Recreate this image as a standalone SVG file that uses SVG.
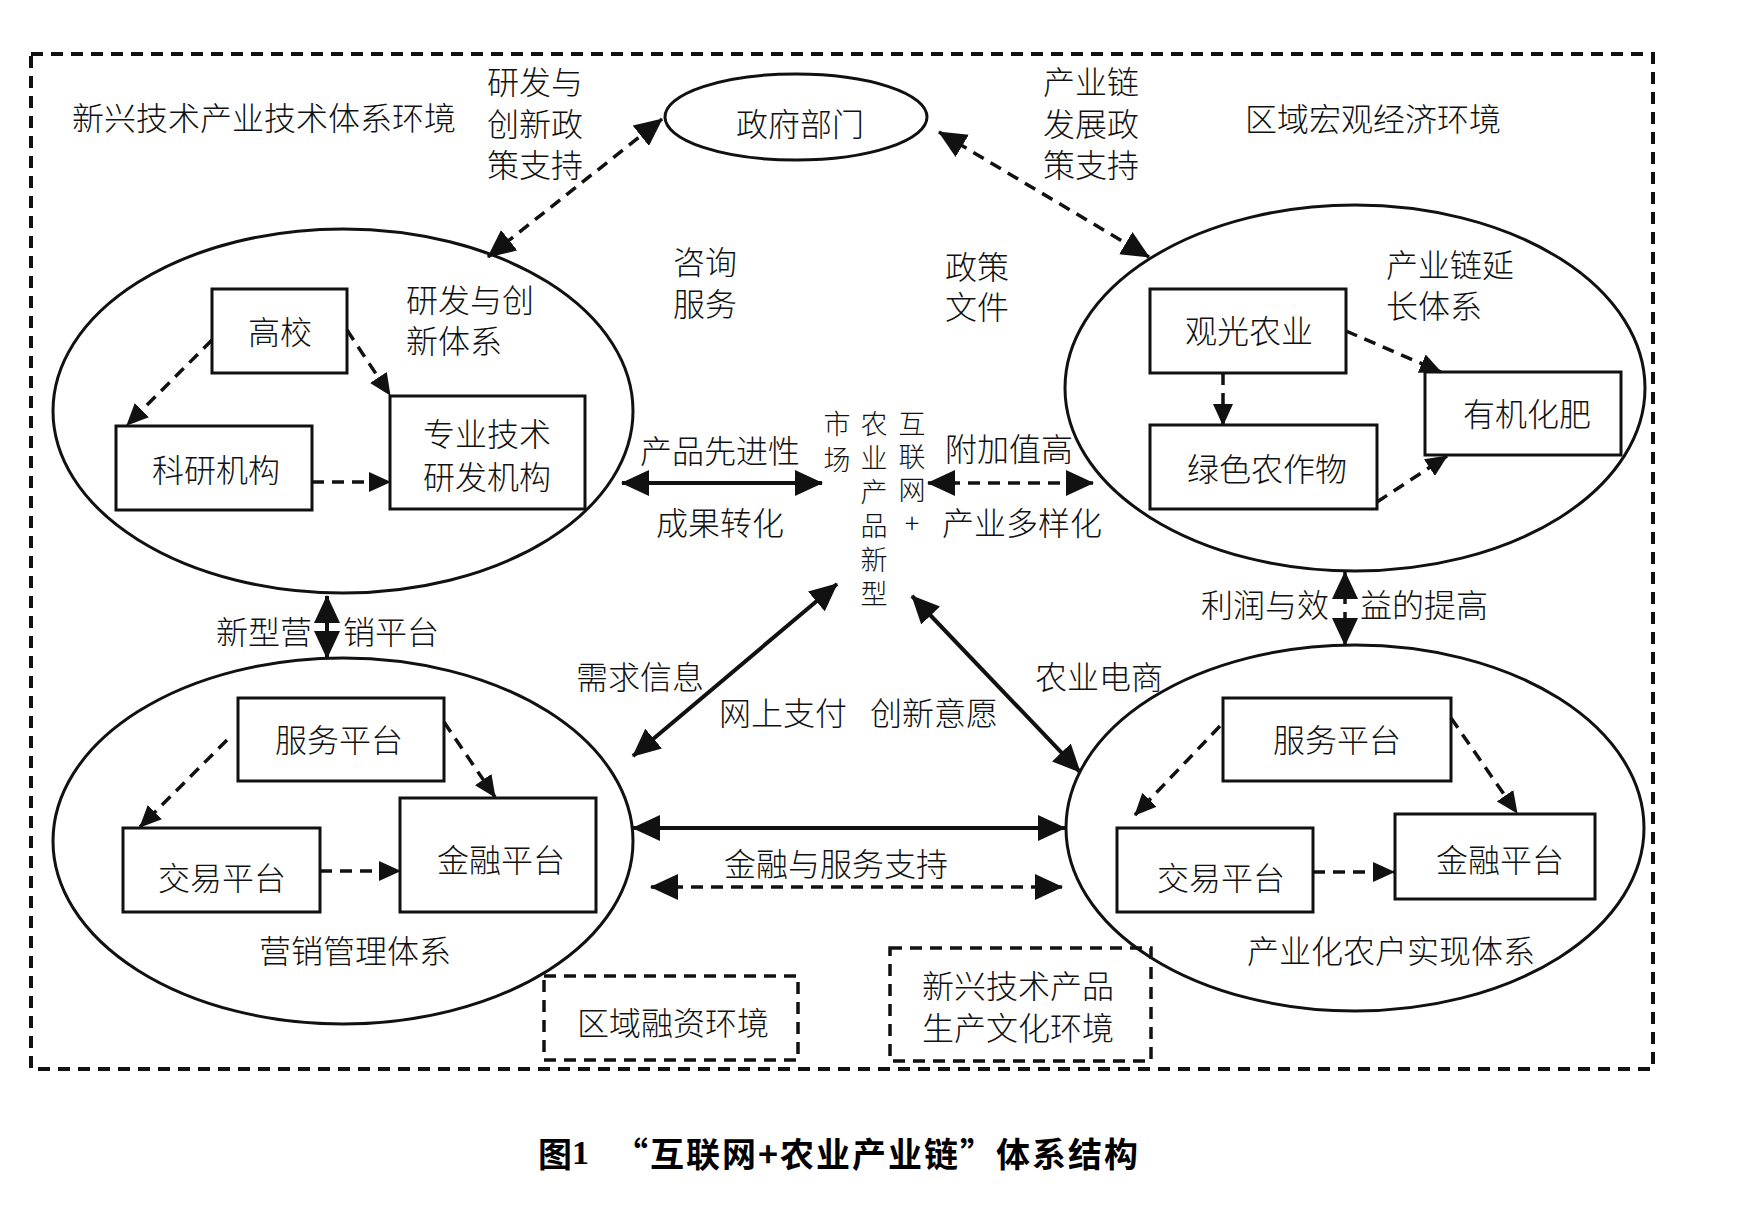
<svg xmlns="http://www.w3.org/2000/svg" width="1760" height="1218" viewBox="0 0 1760 1218">
<style>
text{font-family:"Noto Sans CJK SC","Noto Sans",sans-serif;font-size:32px;font-weight:300;fill:#111;dominant-baseline:central}
.m{text-anchor:middle}
.s{text-anchor:start}
.v{font-size:27px;writing-mode:vertical-rl;text-orientation:upright;text-anchor:start}
.ell{fill:none;stroke:#111;stroke-width:3}
.box{fill:#fff;stroke:#111;stroke-width:3}
.frame{fill:none;stroke:#111;stroke-width:4;stroke-dasharray:12 8}
.dbox{fill:none;stroke:#111;stroke-width:3.5;stroke-dasharray:12 8}
.sol{fill:none;stroke:#111;stroke-width:4}
.das{fill:none;stroke:#111;stroke-width:3.5;stroke-dasharray:12 8}
.big{marker-start:url(#ah);marker-end:url(#ah)}
.one{marker-end:url(#as)}
.title{font-weight:700;font-size:34px;fill:#000}
</style>
<defs>
<marker id="ah" viewBox="0 0 28 26" refX="27" refY="13" markerWidth="28" markerHeight="26" markerUnits="userSpaceOnUse" orient="auto-start-reverse"><path d="M0,0 L28,13 L0,26 Z" fill="#111"/></marker>
<marker id="as" viewBox="0 0 22 20" refX="21" refY="10" markerWidth="22" markerHeight="20" markerUnits="userSpaceOnUse" orient="auto"><path d="M0,0 L22,10 L0,20 Z" fill="#111"/></marker>
</defs>
<rect width="1760" height="1218" fill="#fff"/>

<rect class="frame" x="31" y="54" width="1622" height="1015"/>

<g id="env-labels">
<text class="m" x="264" y="116">新兴技术产业技术体系环境</text>
<text class="m" x="1373" y="117">区域宏观经济环境</text>
</g>

<g id="gov">
<ellipse class="ell" cx="796" cy="117" rx="131" ry="43"/>
<text class="m" x="800" y="122">政府部门</text>
</g>

<g id="rd-system">
<ellipse class="ell" cx="343" cy="411" rx="290" ry="182"/>
<text class="s" x="406" y="298">研发与创<tspan x="406" dy="41">新体系</tspan></text>
</g>
<g id="rd-univ"><rect class="box" x="212" y="289" width="135" height="84"/><text class="m" x="280" y="330">高校</text></g>
<g id="rd-inst"><rect class="box" x="116" y="426" width="196" height="84"/><text class="m" x="216" y="468">科研机构</text></g>
<g id="rd-prof"><rect class="box" x="390" y="396" width="195" height="113"/><text class="m" x="487" y="432">专业技术<tspan x="487" dy="43">研发机构</tspan></text></g>

<g id="chain-system">
<ellipse class="ell" cx="1355" cy="388" rx="290" ry="183"/>
<text class="s" x="1386" y="263">产业链延<tspan x="1386" dy="41">长体系</tspan></text>
</g>
<g id="chain-tour"><rect class="box" x="1150" y="289" width="196" height="84"/><text class="m" x="1249" y="329">观光农业</text></g>
<g id="chain-fert"><rect class="box" x="1425" y="372" width="196" height="83"/><text class="m" x="1527" y="412">有机化肥</text></g>
<g id="chain-green"><rect class="box" x="1150" y="425" width="227" height="84"/><text class="m" x="1267" y="467">绿色农作物</text></g>

<g id="mkt-system">
<ellipse class="ell" cx="343" cy="841" rx="290" ry="183"/>
<text class="m" x="355" y="949">营销管理体系</text>
</g>
<g id="mkt-serv"><rect class="box" x="238" y="698" width="206" height="83"/><text class="m" x="339" y="738">服务平台</text></g>
<g id="mkt-trade"><rect class="box" x="123" y="828" width="197" height="84"/><text class="m" x="222" y="876">交易平台</text></g>
<g id="mkt-fin"><rect class="box" x="400" y="798" width="196" height="114"/><text class="m" x="501" y="858">金融平台</text></g>

<g id="farm-system">
<ellipse class="ell" cx="1355" cy="828" rx="289" ry="183"/>
<text class="m" x="1391" y="949">产业化农户实现体系</text>
</g>
<g id="farm-serv"><rect class="box" x="1223" y="698" width="228" height="83"/><text class="m" x="1337" y="738">服务平台</text></g>
<g id="farm-trade"><rect class="box" x="1117" y="828" width="196" height="84"/><text class="m" x="1221" y="876">交易平台</text></g>
<g id="farm-fin"><rect class="box" x="1395" y="814" width="200" height="85"/><text class="m" x="1500" y="858">金融平台</text></g>

<g id="market-center">
<text class="v" x="837" y="410" letter-spacing="9">市场</text>
<text class="v" x="874" y="410" letter-spacing="7">农业产品新型</text>
<text class="v" x="912" y="410" letter-spacing="6">互联网+</text>
</g>

<g id="env-finance"><rect class="dbox" x="544" y="976" width="254" height="84"/><text class="m" x="673" y="1021">区域融资环境</text></g>
<g id="env-culture"><rect class="dbox" x="890" y="948" width="261" height="113"/><text class="m" x="1018" y="984">新兴技术产品<tspan x="1018" dy="42">生产文化环境</tspan></text></g>

<g id="connectors">
<line class="das big" x1="488" y1="257" x2="662" y2="119"/>
<line class="das big" x1="939" y1="132" x2="1149" y2="257"/>
<line class="das one" x1="212" y1="340" x2="127" y2="425"/>
<line class="das one" x1="347" y1="330" x2="390" y2="395"/>
<line class="das one" x1="312" y1="482" x2="390" y2="482"/>
<line class="das one" x1="1223" y1="373" x2="1223" y2="425"/>
<line class="das one" x1="1346" y1="331" x2="1441" y2="372"/>
<line class="das one" x1="1377" y1="502" x2="1447" y2="456"/>
<line class="das one" x1="227" y1="740" x2="140" y2="827"/>
<line class="das one" x1="444" y1="722" x2="495" y2="797"/>
<line class="das one" x1="320" y1="871" x2="400" y2="871"/>
<line class="das one" x1="1220" y1="726" x2="1135" y2="815"/>
<line class="das one" x1="1451" y1="718" x2="1517" y2="813"/>
<line class="das one" x1="1313" y1="872" x2="1394" y2="872"/>
<line class="sol big" x1="622" y1="483" x2="822" y2="483"/>
<line class="das big" x1="928" y1="483" x2="1093" y2="483"/>
<line class="sol big" x1="633" y1="756" x2="837" y2="584"/>
<line class="sol big" x1="912" y1="596" x2="1080" y2="772"/>
<line class="sol big" x1="633" y1="828" x2="1065" y2="828"/>
<line class="das big" x1="651" y1="887" x2="1062" y2="887"/>
<line class="sol big" x1="327" y1="596" x2="327" y2="658"/>
<line class="das big" x1="1345" y1="572" x2="1345" y2="645"/>
</g>

<g id="connector-labels">
<text class="m" x="535" y="80">研发与<tspan x="535" dy="42">创新政</tspan><tspan x="535" dy="41">策支持</tspan></text>
<text class="m" x="1091" y="80">产业链<tspan x="1091" dy="42">发展政</tspan><tspan x="1091" dy="41">策支持</tspan></text>
<text class="m" x="705" y="260">咨询<tspan x="705" dy="42">服务</tspan></text>
<text class="m" x="977" y="265">政策<tspan x="977" dy="40">文件</tspan></text>
<text class="m" x="720" y="449">产品先进性</text>
<text class="m" x="720" y="521">成果转化</text>
<text class="m" x="1009" y="447">附加值高</text>
<text class="m" x="1022" y="521">产业多样化</text>
<text class="m" x="264" y="630">新型营</text>
<text class="m" x="391" y="630">销平台</text>
<text class="m" x="1265" y="603">利润与效</text>
<text class="m" x="1424" y="603">益的提高</text>
<text class="m" x="640" y="675">需求信息</text>
<text class="m" x="783" y="711">网上支付</text>
<text class="m" x="934" y="711">创新意愿</text>
<text class="m" x="1099" y="675">农业电商</text>
<text class="m" x="836" y="862">金融与服务支持</text>
</g>

<g id="caption">
<text class="title s" x="538" y="1152">图<tspan font-family="Liberation Serif,serif">1</tspan></text>
<text class="title s" x="614" y="1152" textLength="524" lengthAdjust="spacing">“互联网+农业产业链”体系结构</text>
</g>
</svg>
